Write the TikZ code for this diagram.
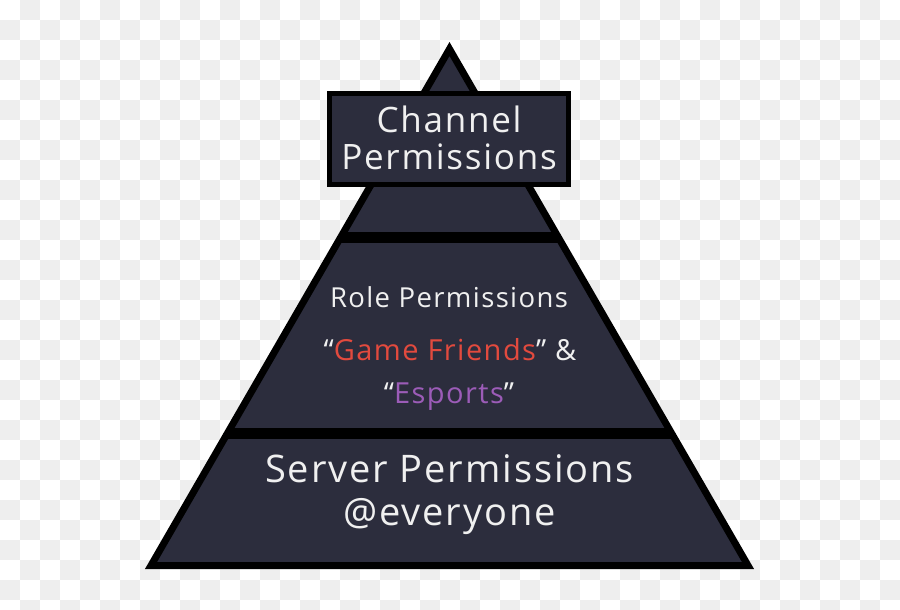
\documentclass[tikz,border=0pt]{standalone}
\usepackage{fontspec}
\setmainfont[LetterSpace=5]{Open Sans}
\usetikzlibrary{calc}
\definecolor{navy}{RGB}{44,45,61}
\definecolor{checkgray}{RGB}{238,238,238}
\definecolor{gamered}{RGB}{226,74,62}
\definecolor{esportpurple}{RGB}{156,92,184}
\tikzset{
  label/.style={text=white!94!black,inner sep=0pt,anchor=base},
}

\begin{document}
\begin{tikzpicture}[x=1pt,y=-1pt]
	\useasboundingbox (0,0) rectangle (900,610);

	%% checker background (transparent png)
	\fill[white] (0,0) rectangle (900,610);
	\foreach \i in {0,...,44}
	  \foreach \j in {0,...,30}{
	    \pgfmathtruncatemacro\k{mod(\i+\j,2)}
	    \ifnum\k=1 \fill[checkgray] (20*\i,20*\j) rectangle +(20,20); \fi
	  }

	%% (T), (BL) and (BR) are the corners of the pyramid
	\coordinate (T) at (449.5,49);
	\coordinate (BL) at (151,565.5);
	\coordinate (BR) at (748,565.5);

	% the two layer lines
	\coordinate (U1) at (0,237.5);
	\coordinate (U2) at (900,237.5);
	\coordinate (L1) at (0,433);
	\coordinate (L2) at (900,433);
	\coordinate (A1) at
	  (intersection cs: first line={(U1) -- (U2)},
			    second line={(T) -- (BL)});
	\coordinate (A2) at
	  (intersection cs: first line={(U1) -- (U2)},
			    second line={(T) -- (BR)});
	\coordinate (B1) at
	  (intersection cs: first line={(L1) -- (L2)},
			    second line={(T) -- (BL)});
	\coordinate (B2) at
	  (intersection cs: first line={(L1) -- (L2)},
			    second line={(T) -- (BR)});

	%% pyramid
	\filldraw[fill=navy,draw=black,line width=7,line join=miter] (T) -- (BL) -- (BR) -- cycle;
	\draw[line width=11] (A1) -- (A2);
	\draw[line width=11] (B1) -- (B2);

	%% channel box on top
	\filldraw[fill=navy,draw=black,line width=5] (329.5,93.5) rectangle (568.5,184.5);

	%% texts
	\node[label,font=\fontsize{35}{37}\selectfont] (chan1) at (449,132) {Channel};
	\node[label,font=\fontsize{35}{37}\selectfont] (chan2) at (449,169) {Permissions};

	\node[label,font=\fontsize{27.5}{29}\selectfont] (role) at (449,307) {Role Permissions};
	\node[label,font=\fontsize{29}{31}\selectfont] (game) at (450,360)
	  {“\textcolor{gamered}{Game Friends}” \&};
	\node[label,font=\fontsize{29}{31}\selectfont] (esport) at (449,403)
	  {“\textcolor{esportpurple}{Esports}”};

	\node[label,font=\fontsize{38}{40}\selectfont] (server) at (449.5,482) {Server Permissions};
	\node[label,font=\fontsize{38}{40}\selectfont] (everyone) at (449.5,525) {@everyone};
\end{tikzpicture}
\end{document}
